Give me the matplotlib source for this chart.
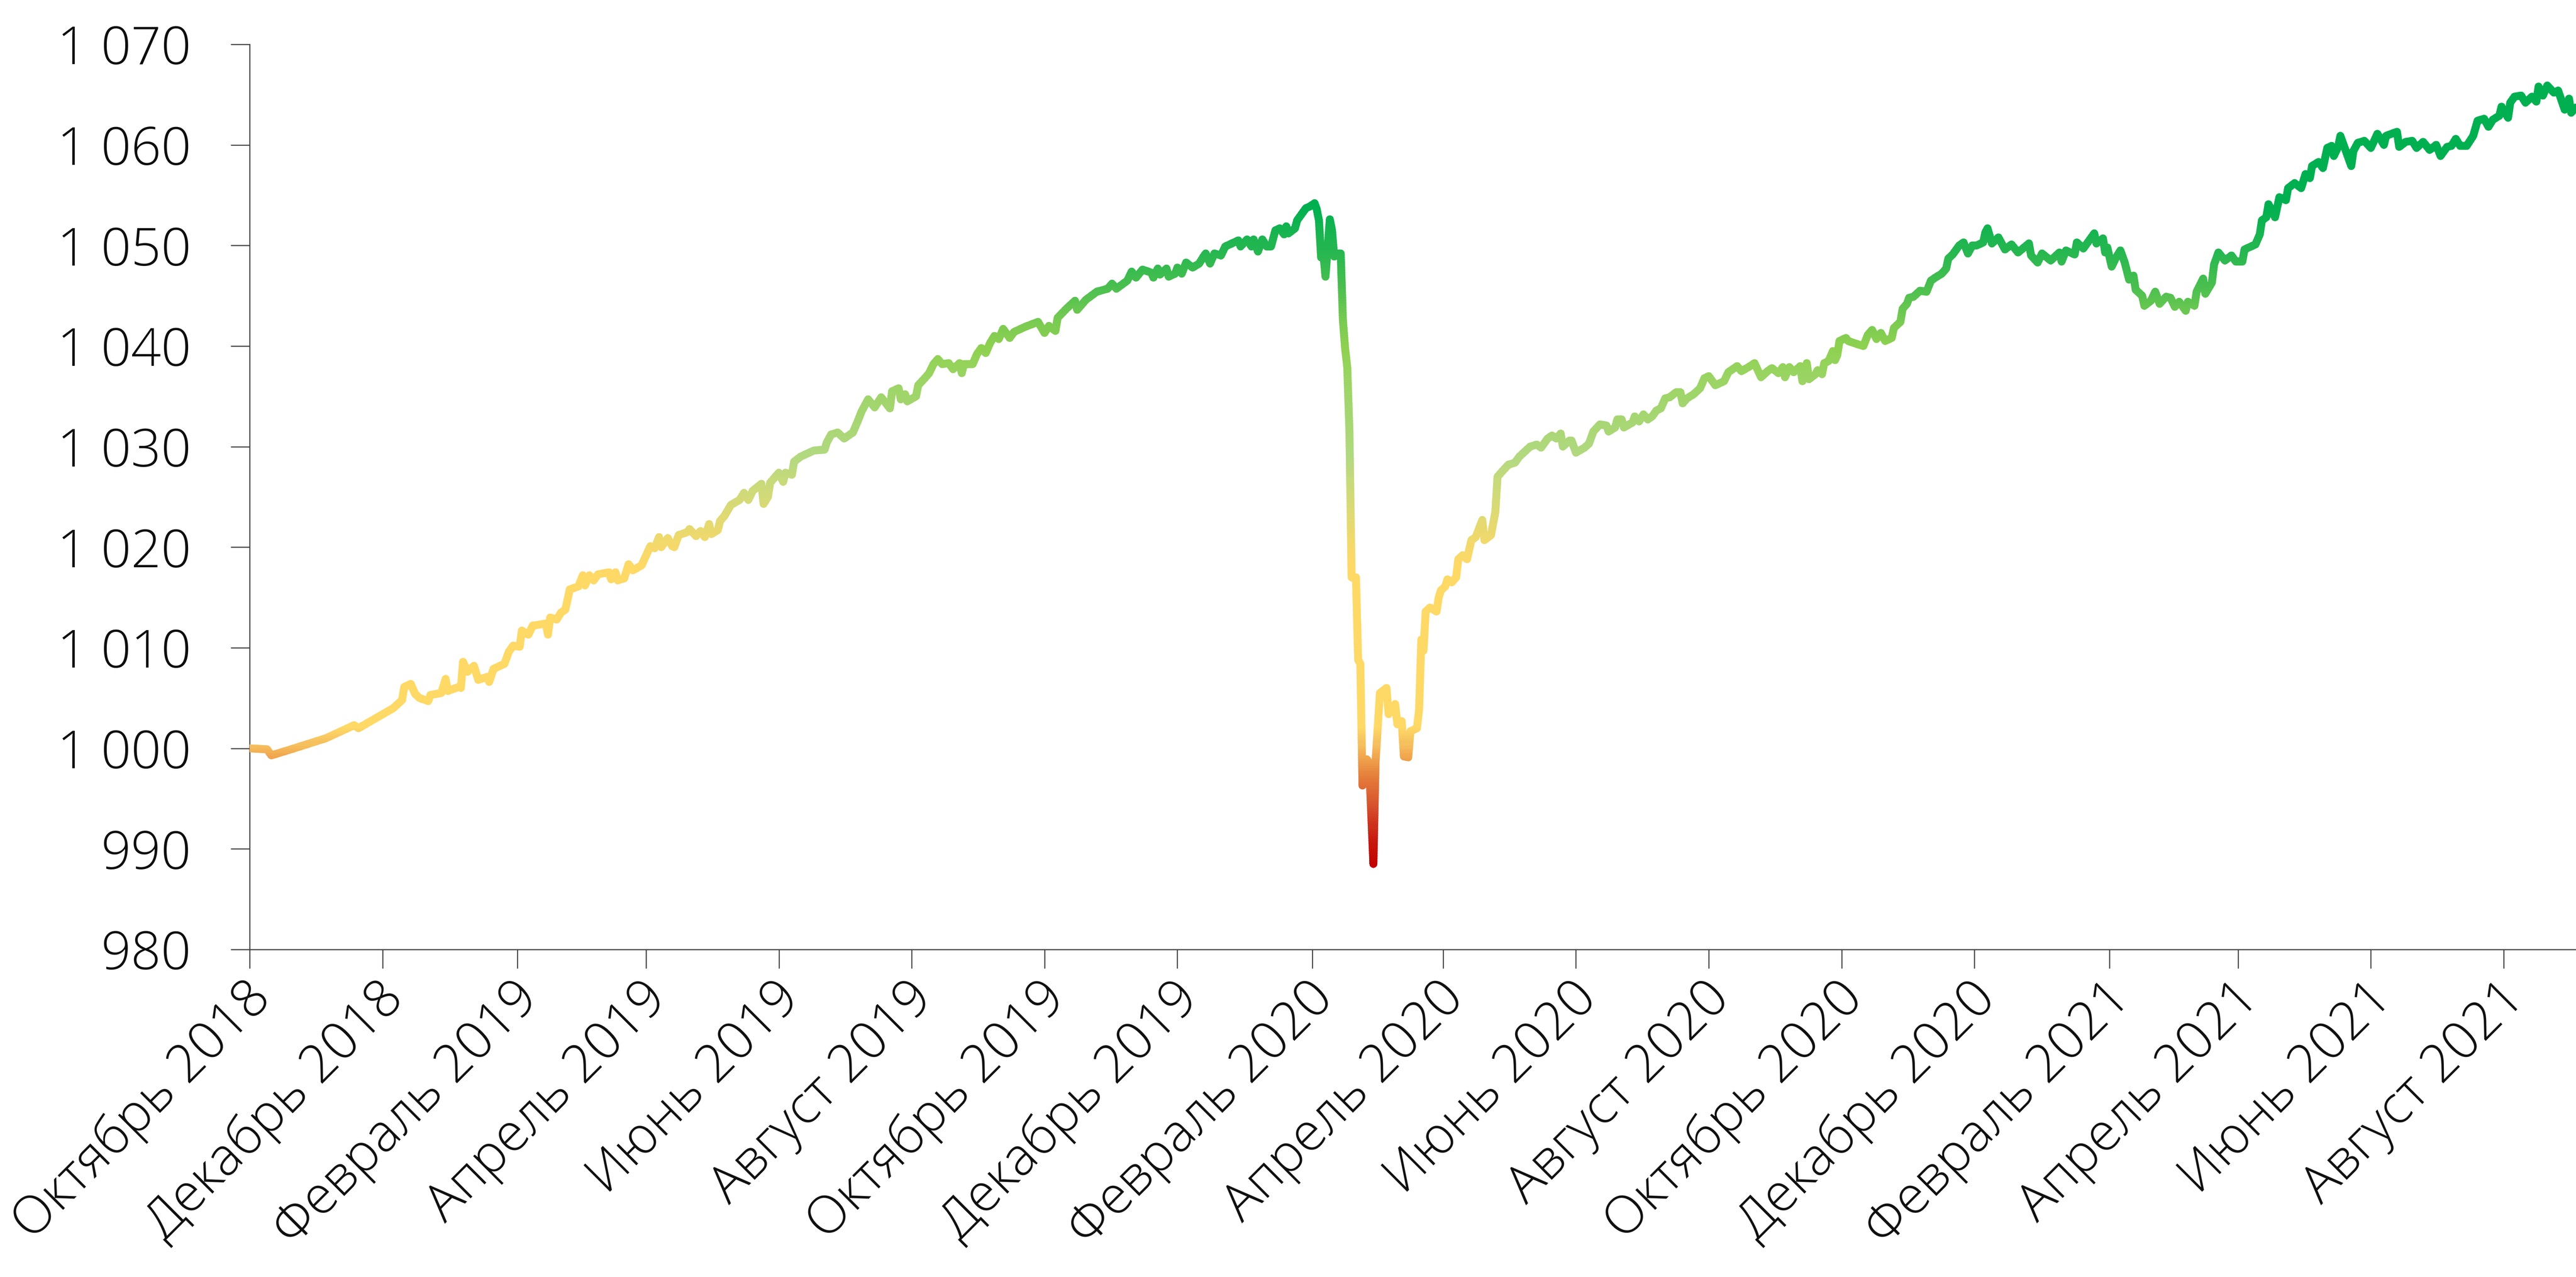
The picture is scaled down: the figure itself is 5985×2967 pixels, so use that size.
import numpy as np
import pandas as pd
import matplotlib
matplotlib.use("Agg")
import matplotlib.pyplot as plt
import matplotlib.dates as mdates
from matplotlib.colors import LinearSegmentedColormap
from matplotlib.patches import Rectangle
from matplotlib.transforms import ScaledTranslation

# ---- data (days from 1 Oct 2018, index value) ----
start_date = pd.Timestamp("2018-10-01")

day_offsets = [
    0, 8, 10, 19, 35, 48, 50, 66, 70, 71, 74, 76, 78, 82, 83, 88, 90, 91, 96, 97,
    98, 100, 103, 105, 109, 110, 112, 117, 119, 121, 124, 125, 128, 130, 136, 137, 138, 141, 143, 145,
    147, 151, 153, 154, 156, 158, 160, 165, 166, 168, 169, 172, 174, 176, 180, 184, 186, 188, 189, 192,
    194, 195, 197, 201, 202, 205, 207, 209, 211, 212, 215, 216, 218, 221, 225, 227, 229, 231, 235, 236,
    238, 239, 243, 245, 246, 249, 250, 253, 259, 264, 265, 267, 270, 273, 277, 279, 281, 284, 287, 290,
    294, 295, 298, 299, 301, 302, 306, 307, 310, 312, 314, 316, 318, 321, 323, 326, 327, 328, 332, 334,
    336, 338, 340, 342, 344, 346, 349, 351, 356, 362, 365, 367, 370, 371, 375, 379, 380, 384, 389, 394,
    396, 398, 403, 405, 407, 410, 414, 415, 417, 418, 421, 422, 425, 426, 428, 430, 433, 436, 438, 439,
    441, 443, 446, 448, 452, 454, 455, 458, 460, 461, 463, 465, 467, 469, 471, 473, 475, 476, 477, 480,
    481, 483, 485, 487, 489, 490, 491, 492, 493, 494, 496, 497, 498, 500, 501, 502, 503, 504, 505, 506,
    507, 508, 509, 510, 511, 513, 514, 516, 517, 519, 522, 523, 526, 527, 529, 530, 532, 533, 536, 537,
    538, 539, 540, 542, 545, 546, 547, 549, 550, 552, 554, 555, 557, 559, 561, 563, 566, 567, 570, 572,
    573, 575, 578, 581, 583, 586, 588, 591, 593, 596, 598, 600, 602, 603, 606, 607, 609, 613, 615, 617,
    620, 623, 624, 627, 628, 630, 631, 635, 636, 638, 640, 642, 644, 646, 648, 650, 652, 655, 657, 658,
    660, 663, 666, 668, 670, 672, 673, 677, 679, 683, 685, 689, 691, 694, 697, 699, 702, 704, 705, 707,
    709, 712, 713, 715, 716, 719, 720, 722, 723, 725, 727, 728, 729, 730, 733, 734, 738, 741, 743, 745,
    747, 749, 751, 754, 755, 758, 759, 761, 762, 764, 767, 770, 772, 774, 777, 779, 780, 782, 784, 785,
    787, 789, 791, 793, 796, 797, 798, 800, 803, 806, 809, 812, 817, 818, 821, 823, 827, 831, 832, 834,
    838, 839, 842, 844, 847, 848, 851, 852, 853, 855, 857, 859, 861, 863, 865, 866, 869, 870, 873, 875,
    877, 880, 882, 884, 886, 889, 890, 893, 894, 897, 898, 901, 902, 904, 907, 910, 912, 915, 916, 921,
    923, 924, 926, 927, 930, 932, 935, 936, 939, 942, 944, 946, 947, 950, 952, 954, 956, 957, 959, 960,
    962, 965, 966, 968, 971, 974, 977, 980, 981, 986, 987, 990, 993, 995, 998, 1001, 1004, 1006, 1009, 1011,
    1013, 1015, 1018, 1021, 1023, 1026, 1028, 1030, 1033, 1034, 1037, 1038, 1040, 1043, 1045, 1048, 1050, 1051, 1053, 1055,
    1058, 1060, 1063, 1065, 1066, 1068,
]

index_values = [
    1000.0, 999.9, 999.3, 999.9, 1001.0, 1002.3, 1002.0, 1004.0, 1004.8, 1006.1, 1006.4, 1005.4, 1005.0, 1004.7, 1005.3, 1005.5, 1006.9, 1005.7, 1006.1, 1006.0,
    1008.6, 1007.6, 1008.2, 1006.8, 1007.1, 1006.6, 1007.9, 1008.4, 1009.6, 1010.2, 1010.1, 1011.7, 1011.3, 1012.2, 1012.4, 1011.3, 1013.0, 1012.8, 1013.5, 1013.8,
    1015.8, 1016.1, 1017.2, 1016.2, 1017.2, 1016.7, 1017.3, 1017.5, 1016.8, 1017.5, 1016.7, 1016.9, 1018.3, 1017.7, 1018.2, 1020.1, 1019.9, 1021.0, 1020.0, 1020.9,
    1020.1, 1020.0, 1021.2, 1021.5, 1021.8, 1021.1, 1021.6, 1021.0, 1022.3, 1021.3, 1021.7, 1022.6, 1023.1, 1024.2, 1024.7, 1025.4, 1024.7, 1025.6, 1026.3, 1024.3,
    1025.0, 1026.4, 1027.4, 1026.5, 1027.4, 1027.2, 1028.5, 1029.0, 1029.6, 1029.7, 1030.4, 1031.2, 1031.4, 1030.8, 1031.4, 1032.4, 1033.5, 1034.7, 1033.9, 1034.9,
    1033.8, 1035.5, 1035.8, 1034.7, 1035.2, 1034.5, 1035.0, 1036.1, 1036.8, 1037.3, 1038.2, 1038.7, 1038.2, 1038.3, 1037.7, 1038.3, 1037.3, 1038.2, 1038.2, 1039.2,
    1039.8, 1039.3, 1040.3, 1041.0, 1040.7, 1041.7, 1040.8, 1041.4, 1041.9, 1042.4, 1041.3, 1042.0, 1041.5, 1042.8, 1043.7, 1044.5, 1043.6, 1044.6, 1045.4, 1045.7,
    1046.2, 1045.7, 1046.5, 1047.4, 1046.8, 1047.6, 1047.3, 1046.8, 1047.7, 1047.1, 1047.7, 1046.9, 1047.2, 1047.8, 1047.2, 1048.3, 1047.8, 1048.2, 1048.9, 1049.2,
    1048.2, 1049.2, 1049.0, 1049.9, 1050.3, 1050.5, 1049.9, 1050.6, 1049.9, 1050.6, 1049.4, 1050.6, 1049.9, 1049.9, 1051.5, 1051.7, 1051.1, 1051.9, 1051.2, 1051.7,
    1052.5, 1053.1, 1053.7, 1053.9, 1054.2, 1053.6, 1052.5, 1048.8, 1049.3, 1046.9, 1052.6, 1051.5, 1048.9, 1049.2, 1049.2, 1042.6, 1039.8, 1037.9, 1031.5, 1017.0,
    1016.9, 1017.0, 1008.8, 1008.4, 996.3, 998.9, 998.6, 988.5, 998.7, 1005.5, 1006.0, 1003.4, 1004.4, 1002.4, 1002.7, 999.2, 999.1, 1001.7, 1002.0, 1003.9,
    1010.8, 1009.7, 1013.6, 1014.0, 1013.6, 1015.0, 1015.7, 1016.1, 1016.8, 1016.5, 1017.0, 1018.8, 1019.2, 1018.8, 1020.7, 1021.0, 1022.7, 1020.7, 1021.2, 1023.5,
    1027.0, 1027.5, 1028.2, 1028.4, 1029.0, 1029.6, 1030.0, 1030.2, 1029.9, 1030.8, 1031.1, 1030.8, 1031.3, 1030.0, 1030.6, 1030.6, 1029.4, 1029.9, 1030.3, 1031.5,
    1032.2, 1032.1, 1031.5, 1031.9, 1032.7, 1032.7, 1031.9, 1032.4, 1033.0, 1032.5, 1033.2, 1032.7, 1033.0, 1033.6, 1033.8, 1034.8, 1034.9, 1035.4, 1035.4, 1034.3,
    1034.8, 1035.2, 1035.8, 1036.8, 1037.0, 1036.4, 1036.1, 1036.5, 1037.4, 1038.0, 1037.5, 1038.0, 1038.3, 1036.9, 1037.5, 1037.8, 1037.3, 1037.9, 1036.9, 1037.9,
    1037.4, 1038.0, 1036.5, 1038.3, 1036.7, 1037.2, 1037.6, 1037.2, 1038.3, 1038.5, 1039.5, 1038.6, 1039.1, 1040.5, 1040.8, 1040.5, 1040.2, 1040.0, 1041.1, 1041.6,
    1040.7, 1041.3, 1040.5, 1040.8, 1041.8, 1042.4, 1043.7, 1044.2, 1044.8, 1044.9, 1045.5, 1045.4, 1046.5, 1046.8, 1047.2, 1047.7, 1048.7, 1049.1, 1049.7, 1050.0,
    1050.3, 1049.2, 1050.0, 1050.0, 1050.3, 1051.3, 1051.7, 1050.2, 1050.8, 1049.6, 1050.1, 1049.3, 1050.2, 1049.0, 1048.3, 1049.2, 1048.5, 1049.3, 1048.4, 1049.5,
    1049.1, 1050.3, 1049.7, 1050.3, 1051.2, 1050.2, 1050.7, 1049.3, 1049.8, 1047.9, 1048.8, 1049.5, 1048.3, 1046.6, 1047.0, 1045.6, 1045.0, 1044.0, 1044.5, 1045.4,
    1044.2, 1044.9, 1044.8, 1043.9, 1044.4, 1043.5, 1044.4, 1044.0, 1045.4, 1046.7, 1045.2, 1046.3, 1048.1, 1049.3, 1048.5, 1049.0, 1048.4, 1048.4, 1049.6, 1050.1,
    1051.1, 1052.5, 1052.8, 1054.1, 1052.8, 1054.8, 1054.5, 1055.7, 1056.2, 1055.7, 1057.1, 1056.7, 1057.9, 1058.3, 1057.7, 1059.7, 1059.9, 1058.9, 1059.8, 1060.9,
    1059.7, 1057.9, 1059.4, 1060.2, 1060.4, 1059.7, 1061.1, 1060.0, 1060.9, 1061.3, 1059.8, 1060.3, 1060.4, 1059.7, 1060.3, 1059.5, 1060.0, 1058.9, 1059.8, 1059.9,
    1060.6, 1059.9, 1059.9, 1060.9, 1062.4, 1062.6, 1061.8, 1062.5, 1062.9, 1063.8, 1062.7, 1064.2, 1064.8, 1064.9, 1064.2, 1064.8, 1064.3, 1065.8, 1064.9, 1065.9,
    1065.2, 1065.4, 1063.5, 1064.6, 1063.2, 1063.7,
]

tick_dates = ["2018-10-01", "2018-12-01", "2019-02-01", "2019-04-01", "2019-06-01", "2019-08-01",
              "2019-10-01", "2019-12-01", "2020-02-01", "2020-04-01", "2020-06-01", "2020-08-01",
              "2020-10-01", "2020-12-01", "2021-02-01", "2021-04-01", "2021-06-01", "2021-08-01"]
tick_labels = ["Октябрь 2018", "Декабрь 2018", "Февраль 2019", "Апрель 2019", "Июнь 2019",
               "Август 2019", "Октябрь 2019", "Декабрь 2019", "Февраль 2020", "Апрель 2020",
               "Июнь 2020", "Август 2020", "Октябрь 2020", "Декабрь 2020", "Февраль 2021",
               "Апрель 2021", "Июнь 2021", "Август 2021"]
y_ticks = [980, 990, 1000, 1010, 1020, 1030, 1040, 1050, 1060, 1070]

# colour stops of the value gradient (red -> orange -> yellow -> green)
grad_values = [988, 991, 994, 997, 999, 1000.5, 1002, 1018, 1020, 1025, 1029, 1033, 1037, 1040, 1042, 1046, 1050, 1054]
grad_colors = ["#C00000", "#C81A10", "#D6502D", "#E47C3A", "#F0A24C", "#F6C25F", "#FFD966", "#FFD966",
               "#F5D96A", "#D3DA77", "#B2D980", "#A6D672", "#9AD463", "#8ED150", "#7ECC52", "#4ABF4F",
               "#22B650", "#00B050"]

# ---- figure ----
plt.rcParams["font.family"] = ["Open Sans", "DejaVu Sans"]
fig = plt.figure(figsize=(29.925, 14.835), dpi=200)
ax = fig.add_axes([0.0969, 0.2565, 0.9031, 0.7088])

dates = start_date + pd.to_timedelta(day_offsets, unit="D")
vals = np.array(index_values)

x0 = mdates.date2num(start_date)
x1 = x0 + 1068.2
ax.set_xlim(x0, x1)
ax.set_ylim(980, 1070)

# draw the line in thin horizontal bands so the colour follows the value
lo, hi = 988.0, 1054.0
pos = [(v - lo) / (hi - lo) for v in grad_values]
cmap = LinearSegmentedColormap.from_list("grad", list(zip(pos, grad_colors)))
step = 0.25
band_lo = np.arange(985.0, 1070.0, step)
for b in band_lo:
    c = cmap(np.clip((b + step / 2 - lo) / (hi - lo), 0, 1))
    ln, = ax.plot(dates, vals, color=c, lw=6.6, solid_joinstyle="round",
                  solid_capstyle="round", zorder=3)
    rect = Rectangle((x0, b), x1 - x0, step * 1.5, transform=ax.transData)
    ln.set_clip_path(rect)

# axes styling
for s in ["top", "right"]:
    ax.spines[s].set_visible(False)
for s in ["left", "bottom"]:
    ax.spines[s].set_color("#404040")
    ax.spines[s].set_linewidth(0.9)

ax.set_yticks(y_ticks)
ax.set_yticklabels([f"{v:,}".replace(",", " ") for v in y_ticks])
ax.tick_params(axis="y", direction="out", length=16, width=0.9, color="#404040",
               pad=33, labelsize=44, labelcolor="#0D0D0D")

ax.set_xticks(mdates.date2num(pd.to_datetime(tick_dates)))
ax.set_xticklabels(tick_labels)
ax.tick_params(axis="x", direction="out", length=16, width=0.9, color="#404040",
               pad=3, labelsize=44, labelcolor="#0D0D0D")
shift = ScaledTranslation(-4.5 / 72, 0, fig.dpi_scale_trans)
for lab in ax.get_xticklabels():
    lab.set_rotation(45)
    lab.set_ha("right")
    lab.set_va("top")
    lab.set_rotation_mode("anchor")
    lab.set_transform(lab.get_transform() + shift)

for lab in ax.get_xticklabels() + ax.get_yticklabels():
    lab.set_fontweight("light")

fig.savefig("out.png", dpi=200, facecolor="white")
